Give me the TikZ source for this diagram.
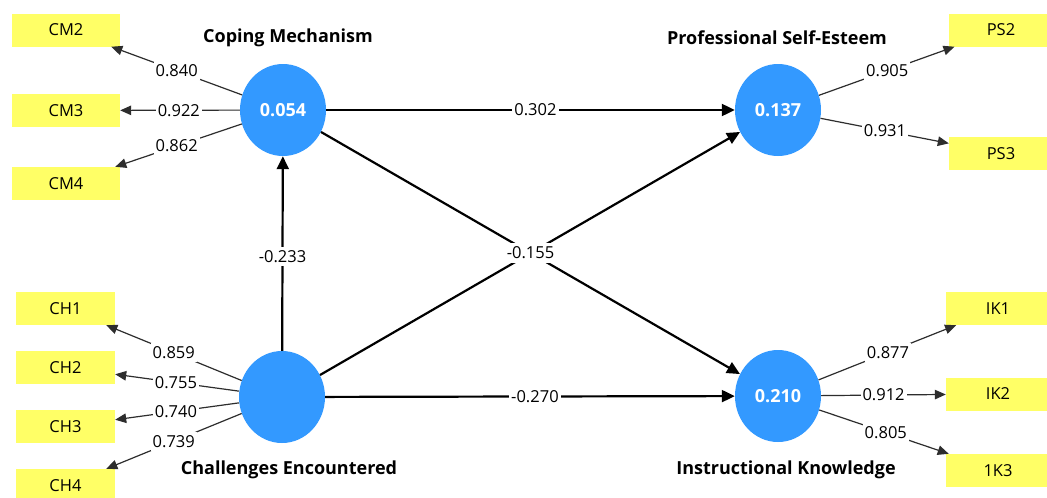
\documentclass[tikz,border=0pt]{standalone}
\usepackage{fontspec}
\setmainfont{Open Sans}
\usetikzlibrary{arrows.meta,calc,shapes.geometric}
\definecolor{lvblue}{RGB}{51,153,255}
\definecolor{indyel}{RGB}{255,255,102}
\definecolor{loadgray}{RGB}{45,45,45}
\begin{document}
\begin{tikzpicture}[x=1pt,y=-1pt,
  lv/.style={ellipse, fill=lvblue, minimum width=86pt, minimum height=92pt, inner sep=0pt,
    text=white, font=\fontsize{18}{21}\selectfont\bfseries},
  ind/.style={rectangle, fill=indyel, minimum height=33pt, inner sep=0pt,
    font=\fontsize{16.5}{19}\selectfont},
  title/.style={font=\fontsize{18}{21}\selectfont\bfseries, inner sep=0pt},
  load/.style={draw=loadgray, line width=1.2pt, -{Triangle[length=11pt,width=9.5pt]}},
  path/.style={draw=black, line width=2.2pt, -{Triangle[length=13pt,width=12pt]}},
  lbl/.style={fill=white, inner xsep=2pt, inner ysep=3.5pt, font=\fontsize{16.5}{19}\selectfont}
]
\useasboundingbox (0,0) rectangle (1047,498);
\clip (0,0) rectangle (1047,498);
\fill[white] (0,0) rectangle (1047,498);

% latent variables
\node[lv] (cm) at (283,110) {0.054};
\node[lv] (ch) at (282,397) {};
\node[lv] (ps) at (778,110) {0.137};
\node[lv] (ik) at (778,396) {0.210};

% titles
\node[title] (tcm) at (288,38) {Coping Mechanism};
\node[title] (tch) at (289,470) {Challenges Encountered};
\node[title] (tps) at (777,38) {Professional Self-Esteem};
\node[title] (tik) at (786,470) {Instructional Knowledge};

% indicators
\node[ind, minimum width=108pt] (cm2) at (66,30) {CM2};
\node[ind, minimum width=108pt] (cm3) at (66,110.5) {CM3};
\node[ind, minimum width=108pt] (cm4) at (66,183.5) {CM4};
\node[ind, minimum width=99pt] (ch1) at (65.5,308.5) {CH1};
\node[ind, minimum width=99pt] (ch2) at (65.5,367.5) {CH2};
\node[ind, minimum width=99pt] (ch3) at (65.5,426.5) {CH3};
\node[ind, minimum width=99pt] (ch4) at (65.5,485.5) {CH4};
\node[ind, minimum width=104pt] (ps2) at (1001,30) {PS2};
\node[ind, minimum width=104pt] (ps3) at (1001,153.5) {PS3};
\node[ind, minimum width=104pt] (ik1) at (998,308.5) {IK1};
\node[ind, minimum width=104pt] (ik2) at (998,394) {IK2};
\node[ind, minimum width=104pt] (ik3) at (998,470.5) {1K3};

% loadings
\draw[load] (cm) -- (cm2);
\draw[load] (cm) -- (cm3);
\draw[load] (cm) -- (cm4);
\draw[load] (ch) -- (ch1);
\draw[load] (ch) -- (ch2);
\draw[load] (ch) -- (ch3);
\draw[load] (ch) -- (ch4);
\draw[load] (ps) -- (ps2);
\draw[load] (ps) -- (ps3);
\draw[load] (ik) -- (ik1);
\draw[load] (ik) -- (ik2);
\draw[load] (ik) -- (ik3);

% structural paths
\draw[path] (ch) -- (cm);
\draw[path] (cm) -- (ps);
\draw[path] (cm) -- (ik);
\draw[path] (ch) -- (ps);
\draw[path] (ch) -- (ik);

% loading labels
\node[lbl] (l1) at ($(cm)!0.49!(cm2)$) {0.840};
\node[lbl] (l2) at ($(cm)!0.48!(cm3)$) {0.922};
\node[lbl] (l3) at ($(cm)!0.49!(cm4)$) {0.862};
\node[lbl] (l4) at ($(ch)!0.50!(ch1)$) {0.859};
\node[lbl] (l5) at ($(ch)!0.49!(ch2)$) {0.755};
\node[lbl] (l6) at ($(ch)!0.49!(ch3)$) {0.740};
\node[lbl] (l7) at ($(ch)!0.50!(ch4)$) {0.739};
\node[lbl] (l8) at ($(ps)!0.49!(ps2)$) {0.905};
\node[lbl] (l9) at ($(ps)!0.48!(ps3)$) {0.931};
\node[lbl] (l10) at ($(ik)!0.50!(ik1)$) {0.877};
\node[lbl] (l11) at ($(ik)!0.48!(ik2)$) {0.912};
\node[lbl] (l12) at ($(ik)!0.49!(ik3)$) {0.805};

% path labels
\node[lbl] (p1) at ($(cm)!0.51!(ps)$) {0.302};
\node[lbl] (p2) at ($(ch)!0.49!(cm)$) {-0.233};
\node[lbl] (p3) at ($(cm)!0.50!(ik)$) {-0.155};
\node[lbl] (p4) at ($(ch)!0.51!(ik)$) {-0.270};
\end{tikzpicture}
\end{document}
